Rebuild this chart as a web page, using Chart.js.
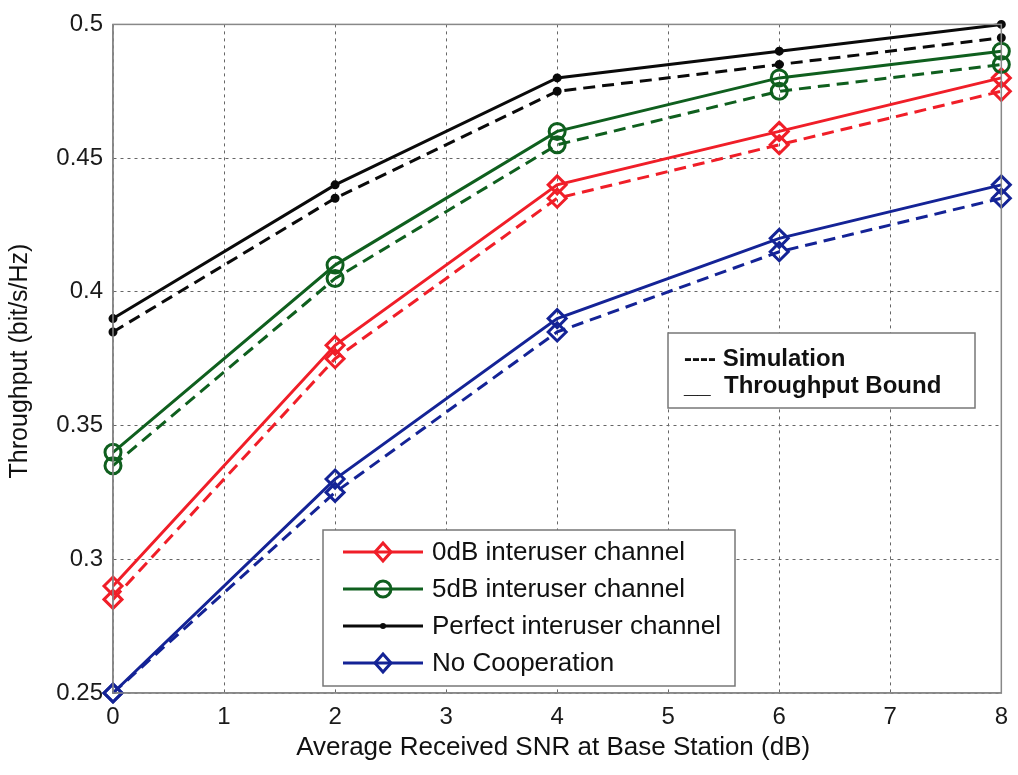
<!DOCTYPE html>
<html>
<head>
<meta charset="utf-8">
<script src="https://cdn.jsdelivr.net/npm/chart.js@4"></script>
<style>
  body { margin: 0; background: #fff; }
  #wrap { width: 1018px; height: 775px; }
</style>
</head>
<body>
<div id="wrap"><canvas id="c" width="1018" height="775"></canvas></div>
<script>
const snr = [0, 2, 4, 6, 8];
const xTicks = [0, 1, 2, 3, 4, 5, 6, 7, 8];
const yTicks = [0.25, 0.3, 0.35, 0.4, 0.45, 0.5];

const perfectBound = [0.39, 0.44, 0.48, 0.49, 0.50];
const perfectSim = [0.385, 0.435, 0.475, 0.485, 0.495];
const db5Bound = [0.34, 0.41, 0.46, 0.48, 0.49];
const db5Sim = [0.335, 0.405, 0.455, 0.475, 0.485];
const db0Bound = [0.29, 0.38, 0.44, 0.46, 0.48];
const db0Sim = [0.285, 0.375, 0.435, 0.455, 0.475];
const noCoopBound = [0.25, 0.33, 0.39, 0.42, 0.44];
const noCoopSim = [0.25, 0.325, 0.385, 0.415, 0.435];

const RED = 'rgb(240,30,40)';
const GREEN = 'rgb(15,95,30)';
const BLACK = 'rgb(10,10,10)';
const BLUE = 'rgb(20,35,150)';

function pts(ys) {
    return snr.map((x, i) => ({ x: x, y: ys[i] }));
}

function series(label, ys, color, style, radius, dashed) {
    return {
        label: label,
        data: pts(ys),
        borderColor: color,
        borderWidth: 3,
        borderDash: dashed ? [12, 7] : [],
        pointStyle: style,
        pointRadius: radius,
        pointBorderWidth: 3,
        pointBorderColor: color,
        pointBackgroundColor: style === 'circle' && radius < 4 ? color : 'rgba(0,0,0,0)',
        tension: 0,
        fill: false,
        clip: false
    };
}

const FONT = '"Liberation Sans", Arial, sans-serif';

// box, legends and axis titles
const extras = {
    id: 'extras',
    afterDraw(chart) {
        const ctx = chart.ctx;
        const a = chart.chartArea;
        ctx.save();
        ctx.strokeStyle = '#888';
        ctx.lineWidth = 1.5;
        ctx.strokeRect(a.left, a.top, a.right - a.left, a.bottom - a.top);

        // axis titles
        ctx.fillStyle = '#111';
        ctx.textAlign = 'center';
        ctx.textBaseline = 'middle';
        ctx.font = '26px ' + FONT;
        ctx.fillText('Average Received SNR at Base Station (dB)', (a.left + a.right) / 2 - 4, 748);
        ctx.save();
        ctx.translate(20, 361);
        ctx.rotate(-Math.PI / 2);
        ctx.font = '25px ' + FONT;
        ctx.fillText('Throughput (bit/s/Hz)', 0, 0);
        ctx.restore();
        ctx.textAlign = 'left';

        // series legend
        const lx = 323, ly = 530, lw = 412, lh = 156;
        ctx.fillStyle = '#fff';
        ctx.fillRect(lx, ly, lw, lh);
        ctx.strokeStyle = '#777';
        ctx.lineWidth = 1.5;
        ctx.strokeRect(lx, ly, lw, lh);
        const items = [
            ['0dB interuser channel', RED, 'diamond'],
            ['5dB interuser channel', GREEN, 'circle'],
            ['Perfect interuser channel', BLACK, 'dot'],
            ['No Cooperation', BLUE, 'diamond']
        ];
        ctx.font = '26px ' + FONT;
        items.forEach((it, i) => {
            const y = ly + 22 + i * 37;
            ctx.strokeStyle = it[1];
            ctx.fillStyle = it[1];
            ctx.lineWidth = 3;
            ctx.beginPath();
            ctx.moveTo(lx + 20, y);
            ctx.lineTo(lx + 100, y);
            ctx.stroke();
            const cx = lx + 60;
            ctx.beginPath();
            if (it[2] === 'diamond') {
                ctx.moveTo(cx, y - 9); ctx.lineTo(cx + 8, y);
                ctx.lineTo(cx, y + 9); ctx.lineTo(cx - 8, y);
                ctx.closePath();
                ctx.stroke();
            } else if (it[2] === 'circle') {
                ctx.arc(cx, y, 8, 0, Math.PI * 2);
                ctx.stroke();
            } else {
                ctx.arc(cx, y, 3, 0, Math.PI * 2);
                ctx.fill();
            }
            ctx.fillStyle = '#111';
            ctx.fillText(it[0], lx + 109, y + 1);
        });

        // line style legend
        const bx = 668, by = 333, bw = 307, bh = 75;
        ctx.fillStyle = '#fff';
        ctx.fillRect(bx, by, bw, bh);
        ctx.strokeStyle = '#777';
        ctx.lineWidth = 1.5;
        ctx.strokeRect(bx, by, bw, bh);
        ctx.fillStyle = '#111';
        ctx.font = 'bold 24px ' + FONT;
        ctx.fillText('---- Simulation', bx + 16, by + 26);
        ctx.fillText('__  Throughput Bound', bx + 16, by + 53);

        ctx.restore();
    }
};

new Chart(document.getElementById('c'), {
    type: 'line',
    data: {
        datasets: [
            series('Perfect bound', perfectBound, BLACK, 'circle', 3, false),
            series('Perfect sim', perfectSim, BLACK, 'circle', 3, true),
            series('5dB bound', db5Bound, GREEN, 'circle', 8, false),
            series('5dB sim', db5Sim, GREEN, 'circle', 8, true),
            series('0dB bound', db0Bound, RED, 'rectRot', 9, false),
            series('0dB sim', db0Sim, RED, 'rectRot', 9, true),
            series('No coop bound', noCoopBound, BLUE, 'rectRot', 9, false),
            series('No coop sim', noCoopSim, BLUE, 'rectRot', 9, true)
        ]
    },
    options: {
        responsive: false,
        animation: false,
        layout: { padding: { top: 24, right: 14, left: 0, bottom: 0 } },
        plugins: {
            legend: { display: false },
            tooltip: { enabled: false }
        },
        scales: {
            x: {
                type: 'linear',
                min: 0,
                max: 8,
                afterBuildTicks: s => { s.ticks = xTicks.map(v => ({ value: v })); },
                ticks: { font: { size: 24, family: FONT }, color: '#1a1a1a', padding: 10 },
                grid: { color: '#666', lineWidth: 1, drawTicks: false },
                border: { display: true, color: '#888', width: 1.5, dash: [3, 4] },
                afterFit: s => { s.height = 82; }
            },
            y: {
                min: 0.25,
                max: 0.5,
                afterBuildTicks: s => { s.ticks = yTicks.map(v => ({ value: v })); },
                ticks: {
                    font: { size: 24, family: FONT },
                    color: '#1a1a1a',
                    padding: 10,
                    callback: v => String(+v.toFixed(2))
                },
                grid: { color: '#666', lineWidth: 1, drawTicks: false },
                border: { display: true, color: '#888', width: 1.5, dash: [3, 4] },
                afterFit: s => { s.width = 113; }
            }
        }
    },
    plugins: [extras]
});
</script>
</body>
</html>
